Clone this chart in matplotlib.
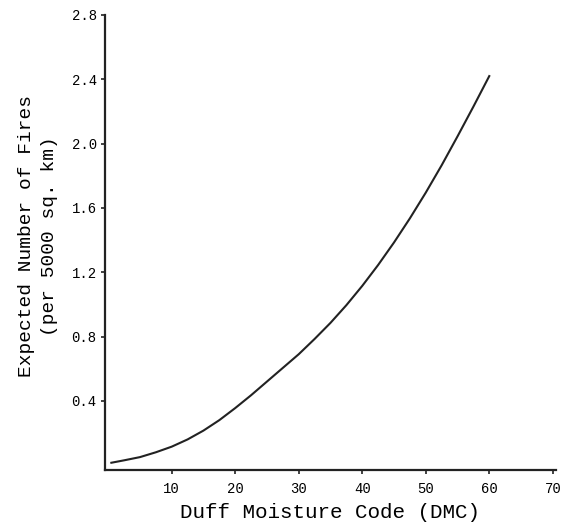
import numpy as np
import matplotlib.pyplot as plt

# DMC vs expected fires
dmc = [0.5, 2.5, 5, 7.5, 10, 12.5, 15, 17.5, 20, 22.5, 25, 27.5, 30,
       32.5, 35, 37.5, 40, 42.5, 45, 47.5, 50, 52.5, 55, 57.5, 60]
fires = [0.015, 0.03, 0.05, 0.08, 0.115, 0.16, 0.215, 0.28, 0.355, 0.435, 0.52,
         0.605, 0.69, 0.785, 0.885, 0.995, 1.115, 1.245, 1.385, 1.535, 1.695,
         1.865, 2.045, 2.23, 2.42]

xticks = [10, 20, 30, 40, 50, 60, 70]
yticks = [0.4, 0.8, 1.2, 1.6, 2.0, 2.4, 2.8]

plt.rcParams['font.family'] = ['Liberation Mono', 'DejaVu Sans Mono']

fig = plt.figure(figsize=(5.63, 5.26), dpi=100)
ax = fig.add_axes([0.1865, 0.1065, 0.801, 0.865])

ax.plot(dmc, fires, color='#222222', lw=1.5, solid_joinstyle='round')

ax.set_xlim(-0.5, 70.5)
ax.set_ylim(-0.03, 2.8)
ax.set_xticks(xticks)
ax.set_yticks(yticks)
ax.set_xticklabels([str(t) for t in xticks], fontsize=10)
ax.set_yticklabels(['%.1f' % t for t in yticks], fontsize=10)
ax.tick_params(length=3, width=1.2, color='#222222', pad=3)
ax.tick_params(axis='x', pad=6)

for s in ['top', 'right']:
    ax.spines[s].set_visible(False)
for s in ['left', 'bottom']:
    ax.spines[s].set_linewidth(1.6)
    ax.spines[s].set_color('#222222')

ax.set_xlabel('Duff Moisture Code (DMC)', fontsize=15, labelpad=5)
ax.set_ylabel('Expected Number of Fires\n(per 5000 sq. km)', fontsize=14,
              linespacing=1.45)
ax.yaxis.set_label_coords(-0.104, 0.515)

fig.savefig('out.png', dpi=100)
